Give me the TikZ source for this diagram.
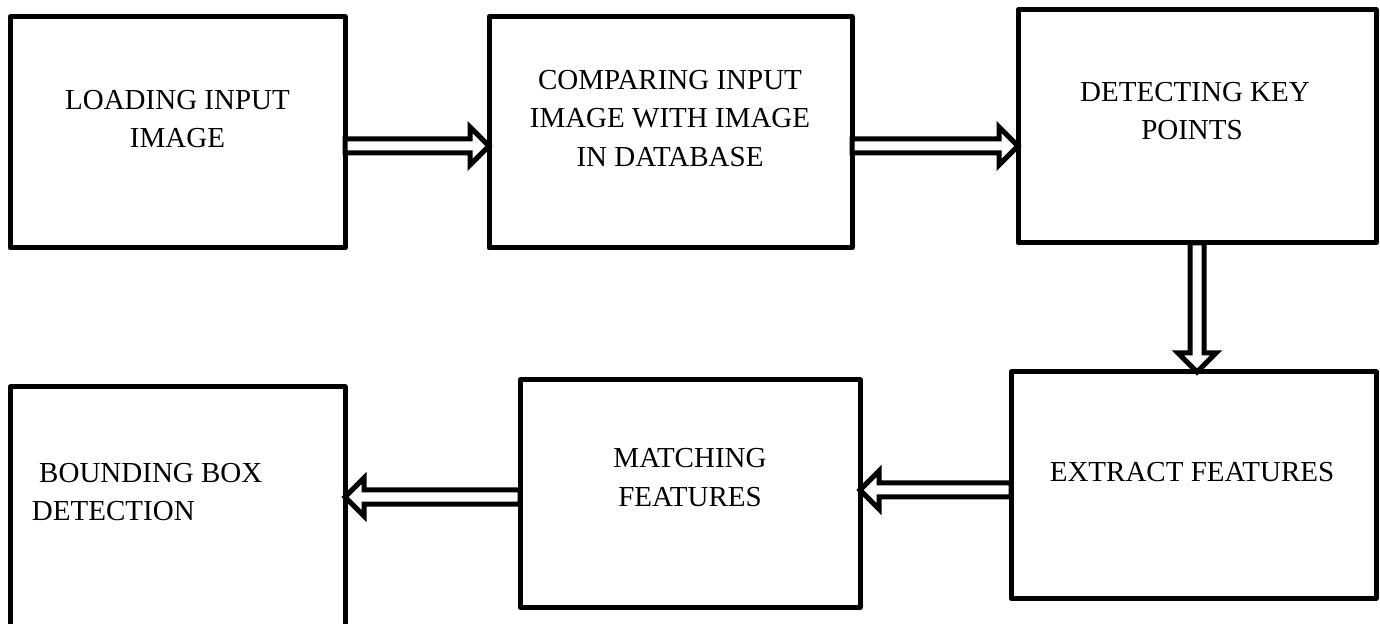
\documentclass[tikz,border=0pt]{standalone}
\usepackage{fontspec}
\setmainfont{Liberation Serif}
\usetikzlibrary{calc}

\tikzset{
  stagebox/.style={draw=black, line width=2.5pt, line join=round, fill=white,
    inner sep=0pt, outer sep=0pt},
  stagetext/.style={font=\fontsize{14.5pt}{19.4pt}\selectfont, inner sep=0pt,
    outer sep=0pt, align=center},
  blockarrow/.style={draw=black, line width=2.5pt, fill=white, line join=miter},
}

% hollow block arrow from #1 to #2 (shaft half width 3.5pt, head 9.5pt)
\newcommand{\blockarrowpath}[2]{%
  \path[blockarrow]
    ($(#1)!3.5pt!90:(#2)$)
    -- ($($(#2)!9.5pt!(#1)$)!3.5pt!-90:(#1)$)
    -- ($($(#2)!9.5pt!(#1)$)!9.5pt!-90:(#1)$)
    -- (#2)
    -- ($($(#2)!9.5pt!(#1)$)!9.5pt!90:(#1)$)
    -- ($($(#2)!9.5pt!(#1)$)!3.5pt!90:(#1)$)
    -- ($(#1)!3.5pt!-90:(#2)$)
    -- cycle;}

\begin{document}
\begin{tikzpicture}[x=0.5pt, y=-0.5pt]
  \useasboundingbox (0,0) rectangle (1380,624);
  \fill[white] (0,0) rectangle (1380,624);

  % stage boxes
  \node[stagebox, minimum width=167.5pt, minimum height=115.5pt] (b1) at (177.5,132.5) {};
  \node[stagebox, minimum width=181.5pt, minimum height=115.5pt] (b2) at (670.5,132.5) {};
  \node[stagebox, minimum width=179pt,   minimum height=116.5pt] (b3) at (1197,126.5) {};
  \node[stagebox, minimum width=182.5pt, minimum height=113pt]   (b4) at (1193.5,485) {};
  \node[stagebox, minimum width=170pt,   minimum height=113.5pt] (b5) at (690,493.5) {};
  \node[stagebox, minimum width=167.5pt, minimum height=126.5pt] (b6) at (177.5,513.5) {};

  % labels
  \node[stagetext, anchor=base] (t1a) at (177.5,110) {LOADING INPUT};
  \node[stagetext, anchor=base] (t1b) at (177.5,148) {IMAGE};
  \node[stagetext, anchor=base] (t2a) at (670,90)  {COMPARING INPUT};
  \node[stagetext, anchor=base] (t2b) at (670,128) {IMAGE WITH IMAGE};
  \node[stagetext, anchor=base] (t2c) at (670,167) {IN DATABASE};
  \node[stagetext, anchor=base] (t3a) at (1195,102) {DETECTING KEY};
  \node[stagetext, anchor=base] (t3b) at (1192,140) {POINTS};
  \node[stagetext, anchor=base] (t4)  at (1192,481) {EXTRACT FEATURES};
  \node[stagetext, anchor=base] (t5a) at (690,468) {MATCHING};
  \node[stagetext, anchor=base] (t5b) at (690,507) {FEATURES};
  \node[stagetext, anchor=base west] (t6a) at (32,482) {\hspace{0.25em}BOUNDING BOX};
  \node[stagetext, anchor=base west] (t6b) at (32,520) {DETECTION};

  % arrow end points on the box borders
  \coordinate (a1s) at (b1.east |- 0,146);
  \coordinate (a1e) at (b2.west |- 0,146);
  \coordinate (a2s) at (b2.east |- 0,146);
  \coordinate (a2e) at (b3.west |- 0,146);
  \coordinate (a3s) at (b3.south -| 1197,0);
  \coordinate (a3e) at (b4.north -| 1197,0);
  \coordinate (a4s) at (b4.west |- 0,490);
  \coordinate (a4e) at (b5.east |- 0,490);
  \coordinate (a5s) at (b5.west |- 0,497);
  \coordinate (a5e) at (b6.east |- 0,497);

  % connectors
  \blockarrowpath{a1s}{a1e}
  \blockarrowpath{a2s}{a2e}
  \blockarrowpath{a3s}{a3e}
  \blockarrowpath{a4s}{a4e}
  \blockarrowpath{a5s}{a5e}
\end{tikzpicture}
\end{document}
